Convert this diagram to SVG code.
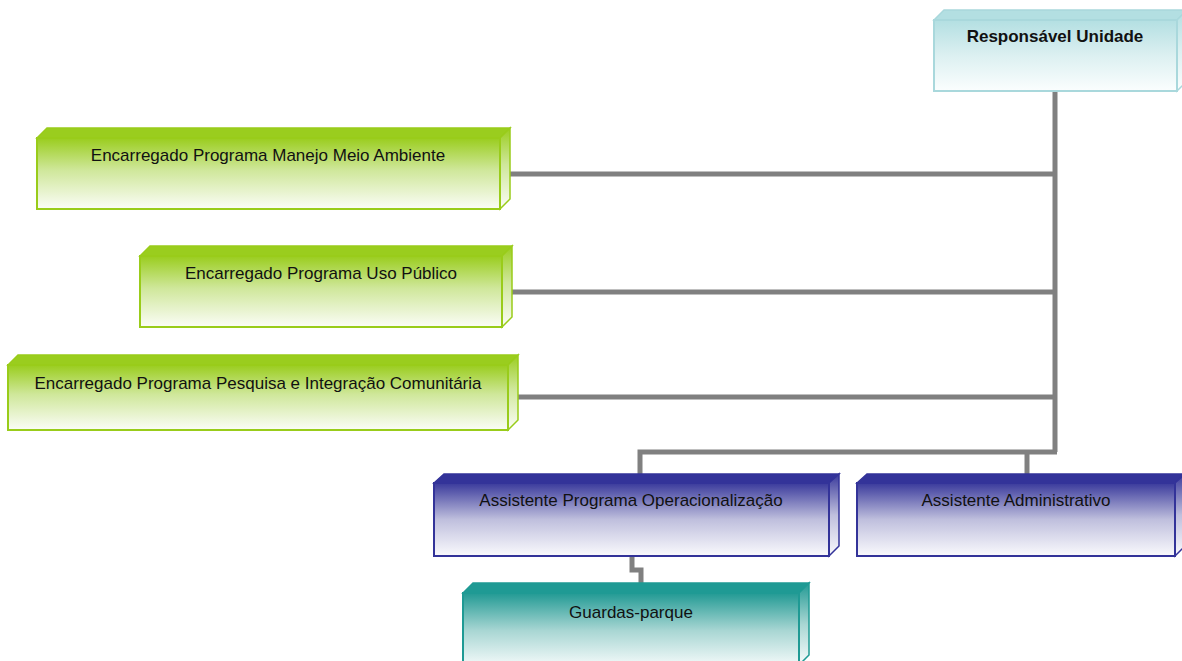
<svg xmlns="http://www.w3.org/2000/svg" width="1182" height="661" viewBox="0 0 1182 661">
<defs>
<linearGradient id="gGreen" x1="0" y1="0" x2="0" y2="1">
<stop offset="0" stop-color="#9acd1e"/><stop offset="0.45" stop-color="#cfe79a"/><stop offset="1" stop-color="#fbfdf7"/>
</linearGradient>
<linearGradient id="gBlue" x1="0" y1="0" x2="0" y2="1">
<stop offset="0" stop-color="#3a3a9c"/><stop offset="0.5" stop-color="#bfbfdd"/><stop offset="1" stop-color="#fafafd"/>
</linearGradient>
<linearGradient id="gTeal" x1="0" y1="0" x2="0" y2="1">
<stop offset="0" stop-color="#229a94"/><stop offset="0.5" stop-color="#a8d6d3"/><stop offset="1" stop-color="#f8fcfc"/>
</linearGradient>
<linearGradient id="gCyan" x1="0" y1="0" x2="0" y2="1">
<stop offset="0" stop-color="#b3dfe2"/><stop offset="0.5" stop-color="#dcf0f1"/><stop offset="1" stop-color="#fbfefe"/>
</linearGradient>
<style>
.t{font-family:"Liberation Sans",Arial,sans-serif;font-size:17px;fill:#111;text-anchor:middle}
.b{font-weight:bold}
.green .f{fill:url(#gGreen);stroke:#99cc1a;stroke-width:2}
.green .s{fill:#9acd1e;stroke:#99cc1a;stroke-width:1.5}
.green .r{fill:url(#gGreen);stroke:#99cc1a;stroke-width:1.5}
.blue .f{fill:url(#gBlue);stroke:#333399;stroke-width:2}
.blue .s{fill:#333399;stroke:#333399;stroke-width:1.5}
.blue .r{fill:url(#gBlue);stroke:#333399;stroke-width:1.5}
.teal .f{fill:url(#gTeal);stroke:#1f9a94;stroke-width:2}
.teal .s{fill:#1f9a94;stroke:#1f9a94;stroke-width:1.5}
.teal .r{fill:url(#gTeal);stroke:#1f9a94;stroke-width:1.5}
.cyan .f{fill:url(#gCyan);stroke:#a9d8dc;stroke-width:2}
.cyan .s{fill:#b3dfe2;stroke:#a9d8dc;stroke-width:1.5}
.cyan .r{fill:url(#gCyan);stroke:#a9d8dc;stroke-width:1.5}
.c{fill:none;stroke:#808080;stroke-width:5}
</style>
</defs>
<g id="connectors">
<polyline class="c" points="1055,91 1055,452"/>
<polyline class="c" points="510,174 1055,174"/>
<polyline class="c" points="512,292 1055,292"/>
<polyline class="c" points="516,397 1055,397"/>
<polyline class="c" points="640,476 640,452 1057,452"/>
<polyline class="c" points="1027,452 1027,476"/>
<polyline class="c" points="632,556 632,570 641,570 641,585"/>
</g>
<g id="n-responsavel" class="cyan">
<polygon class="s" points="934,20 944,10 1187,10 1177,20"/>
<polygon class="r" points="1177,20 1187,10 1187,81 1177,91"/>
<rect class="f" x="934" y="20" width="243" height="71"/>
<text class="t b" x="1055" y="42">Responsável Unidade</text>
</g>
<g id="n-manejo" class="green">
<polygon class="s" points="37,138 47,128 510,128 500,138"/>
<polygon class="r" points="500,138 510,128 510,199 500,209"/>
<rect class="f" x="37" y="138" width="463" height="71"/>
<text class="t" x="268" y="161">Encarregado Programa Manejo Meio Ambiente</text>
</g>
<g id="n-uso" class="green">
<polygon class="s" points="140,256 150,246 512,246 502,256"/>
<polygon class="r" points="502,256 512,246 512,317 502,327"/>
<rect class="f" x="140" y="256" width="362" height="71"/>
<text class="t" x="321" y="279">Encarregado Programa Uso Público</text>
</g>
<g id="n-pesquisa" class="green">
<polygon class="s" points="8,365 18,355 518,355 508,365"/>
<polygon class="r" points="508,365 518,355 518,420 508,430"/>
<rect class="f" x="8" y="365" width="500" height="65"/>
<text class="t" x="258" y="389">Encarregado Programa Pesquisa e Integração Comunitária</text>
</g>
<g id="n-operacionalizacao" class="blue">
<polygon class="s" points="434,483 444,474 839,474 829,483"/>
<polygon class="r" points="829,483 839,474 839,546 829,556"/>
<rect class="f" x="434" y="483" width="395" height="73"/>
<text class="t" x="631" y="506">Assistente Programa Operacionalização</text>
</g>
<g id="n-administrativo" class="blue">
<polygon class="s" points="857,483 867,474 1185,474 1175,483"/>
<polygon class="r" points="1175,483 1185,474 1185,546 1175,556"/>
<rect class="f" x="857" y="483" width="318" height="73"/>
<text class="t" x="1016" y="506">Assistente Administrativo</text>
</g>
<g id="n-guardas" class="teal">
<polygon class="s" points="463,593 473,583 809,583 799,593"/>
<polygon class="r" points="799,593 809,583 809,655 799,665"/>
<rect class="f" x="463" y="593" width="336" height="75"/>
<text class="t" x="631" y="618">Guardas-parque</text>
</g>
</svg>
